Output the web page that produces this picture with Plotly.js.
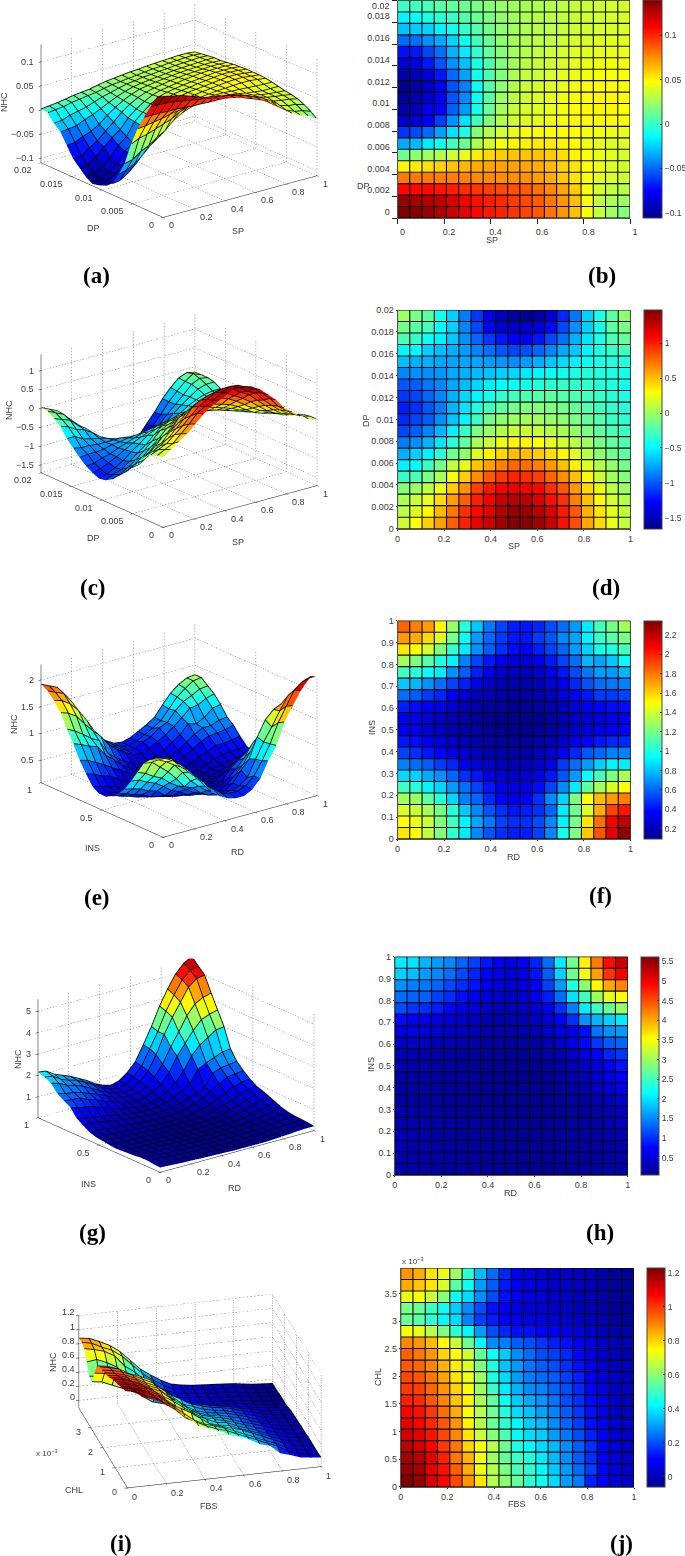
<!DOCTYPE html>
<html><head><meta charset="utf-8">
<script src="https://cdn.plot.ly/plotly-3.0.1.min.js"></script>
<style>html,body{margin:0;padding:0;background:#fff}#g{width:685px;height:1556px}</style></head>
<body><div id="g"></div>
<script>
const unitGrid=[0,0.0526,0.1053,0.1579,0.2105,0.2632,0.3158,0.3684,0.4211,0.4737,0.5263,0.5789,0.6316,0.6842,0.7368,0.7895,0.8421,0.8947,0.9474,1];
const dpGrid=unitGrid.map(v=>v*0.02);
const chlGrid=unitGrid.map(v=>v*0.00396);
const nhcAB=[
[.14,.138,.134,.128,.122,.114,.108,.104,.101,.097,.093,.088,.081,.073,.063,.046,.033,.025,.018,.008],
[.134,.131,.127,.124,.118,.112,.106,.103,.1,.096,.092,.087,.08,.073,.063,.046,.034,.027,.024,.018],
[.108,.108,.107,.105,.102,.099,.096,.094,.092,.09,.087,.082,.076,.069,.06,.046,.038,.033,.031,.026],
[.08,.08,.08,.079,.079,.078,.076,.076,.075,.075,.074,.071,.067,.06,.054,.046,.041,.038,.036,.032],
[.05,.052,.055,.058,.062,.065,.068,.07,.07,.07,.069,.067,.064,.058,.054,.048,.043,.04,.038,.035],
[.012,.02,.024,.03,.036,.042,.052,.057,.06,.062,.062,.062,.06,.056,.05,.046,.042,.04,.038,.037],
[-.034,-.03,-.018,-.01,.002,.012,.028,.038,.045,.05,.051,.052,.052,.05,.048,.044,.042,.04,.04,.04],
[-.063,-.058,-.05,-.036,-.02,-.008,.018,.03,.037,.042,.046,.047,.048,.048,.047,.046,.045,.044,.043,.043],
[-.088,-.086,-.075,-.06,-.04,-.02,.002,.018,.03,.036,.04,.042,.044,.046,.047,.048,.049,.049,.047,.045],
[-.098,-.095,-.08,-.075,-.052,-.038,-.008,.012,.026,.034,.038,.041,.043,.045,.047,.049,.05,.05,.048,.046],
[-.103,-.098,-.088,-.075,-.055,-.042,-.012,.008,.024,.032,.036,.04,.042,.044,.046,.048,.05,.05,.048,.046],
[-.106,-.1,-.09,-.078,-.056,-.044,-.012,.006,.02,.03,.035,.038,.04,.043,.045,.047,.049,.049,.048,.046],
[-.098,-.095,-.085,-.07,-.05,-.036,-.01,.005,.018,.028,.033,.036,.039,.041,.043,.045,.047,.047,.047,.045],
[-.085,-.082,-.07,-.055,-.04,-.028,-.008,.006,.017,.026,.031,.034,.037,.04,.042,.044,.045,.045,.045,.044],
[-.072,-.07,-.058,-.048,-.032,-.018,-.002,.01,.019,.026,.03,.033,.036,.038,.04,.041,.042,.043,.043,.042],
[-.05,-.048,-.04,-.034,-.024,-.01,.002,.012,.02,.026,.029,.032,.034,.036,.038,.039,.04,.041,.041,.04],
[-.028,-.026,-.024,-.016,-.01,-.002,.006,.014,.02,.025,.028,.03,.032,.034,.036,.037,.038,.039,.04,.04],
[-.016,-.014,-.008,-.004,0,.006,.012,.016,.021,.025,.027,.03,.031,.033,.034,.036,.037,.038,.039,.038],
[0,.002,.004,.008,.01,.013,.015,.019,.022,.024,.026,.028,.03,.032,.033,.035,.036,.037,.038,.036],
[.002,.004,.006,.009,.012,.014,.016,.02,.023,.025,.027,.029,.03,.032,.033,.034,.035,.036,.036,.034]];
const nhcCD=[
[.15,.3,.45,.6,.8,1.0,1.15,1.25,1.37,1.48,1.46,1.38,1.25,1.05,.85,.58,.42,.25,.12,.05],
[.1,.22,.32,.52,.72,.95,1.08,1.18,1.32,1.42,1.4,1.3,1.2,1.02,.82,.55,.38,.22,.12,.05],
[.05,.14,.24,.42,.6,.8,1.0,1.12,1.25,1.3,1.3,1.2,1.05,.95,.7,.5,.32,.18,.08,.02],
[-.08,0,.1,.25,.45,.65,.9,1.03,1.1,1.15,1.12,1.08,.95,.82,.62,.42,.25,.1,0,-.05],
[-.32,-.25,-.1,.05,.28,.45,.65,.82,.92,.98,.95,.9,.78,.65,.5,.32,.15,.03,-.08,-.12],
[-.52,-.48,-.3,-.12,.1,.22,.48,.6,.7,.78,.75,.7,.62,.5,.35,.2,.08,-.02,-.12,-.18],
[-.72,-.62,-.52,-.36,-.15,-.03,.2,.34,.42,.5,.5,.46,.4,.33,.22,.08,-.05,-.13,-.2,-.25],
[-.88,-.82,-.7,-.55,-.36,-.18,.03,.15,.26,.33,.33,.3,.24,.17,.1,0,-.1,-.18,-.24,-.28],
[-1.05,-.98,-.85,-.7,-.52,-.32,-.1,0,.08,.15,.15,.13,.09,.04,-.02,-.1,-.18,-.25,-.3,-.33],
[-1.15,-1.05,-.98,-.82,-.66,-.5,-.3,-.12,-.04,0,.03,.02,-.02,-.05,-.1,-.17,-.23,-.3,-.34,-.37],
[-1.18,-1.12,-1.0,-.88,-.7,-.55,-.38,-.28,-.2,-.12,-.08,-.07,-.09,-.13,-.17,-.23,-.28,-.33,-.37,-.4],
[-1.1,-1.05,-.95,-.85,-.72,-.6,-.5,-.42,-.33,-.28,-.24,-.22,-.2,-.22,-.25,-.28,-.32,-.36,-.4,-.42],
[-1.0,-.98,-.9,-.85,-.75,-.68,-.6,-.53,-.48,-.46,-.42,-.38,-.34,-.32,-.33,-.33,-.36,-.38,-.42,-.43],
[-.85,-.82,-.82,-.8,-.74,-.72,-.68,-.66,-.62,-.6,-.54,-.5,-.46,-.43,-.4,-.38,-.38,-.4,-.42,-.42],
[-.68,-.72,-.72,-.75,-.75,-.75,-.75,-.78,-.8,-.82,-.78,-.72,-.65,-.58,-.52,-.46,-.4,-.38,-.38,-.38],
[-.5,-.5,-.62,-.68,-.72,-.78,-.85,-.92,-1.0,-1.05,-1.02,-.95,-.85,-.74,-.64,-.5,-.4,-.32,-.28,-.28],
[-.25,-.32,-.45,-.52,-.65,-.82,-.95,-1.1,-1.2,-1.28,-1.3,-1.2,-1.05,-.92,-.72,-.55,-.4,-.25,-.18,-.18],
[-.12,-.2,-.28,-.48,-.62,-.85,-1.05,-1.3,-1.42,-1.45,-1.42,-1.38,-1.25,-1.05,-.82,-.62,-.42,-.2,-.1,-.14],
[0,-.1,-.2,-.42,-.62,-.88,-1.1,-1.33,-1.5,-1.6,-1.66,-1.58,-1.42,-1.15,-.9,-.62,-.4,-.2,-.05,-.14],
[.02,-.08,-.18,-.4,-.6,-.86,-1.1,-1.32,-1.52,-1.62,-1.66,-1.6,-1.45,-1.18,-.92,-.62,-.38,-.18,-.1,-.15]];
const nhcEF=[
[1.55,1.5,1.36,1.22,1.05,.9,.68,.56,.48,.44,.44,.52,.68,.98,1.22,1.62,1.88,2.12,2.3,2.3],
[1.5,1.46,1.38,1.22,1.08,.92,.74,.64,.52,.48,.48,.54,.68,.92,1.2,1.55,1.82,2.08,2.2,2.25],
[1.42,1.38,1.3,1.2,1.02,.82,.68,.56,.48,.42,.44,.48,.6,.9,1.18,1.42,1.68,1.92,2.02,2.05],
[1.3,1.28,1.15,1.02,.85,.66,.6,.46,.38,.34,.38,.48,.68,.85,1.22,1.5,1.65,1.72,1.78,1.8],
[1.08,1.02,.92,.85,.72,.62,.52,.42,.34,.3,.32,.4,.52,.68,.9,1.15,1.3,1.42,1.5,1.5],
[.86,.84,.76,.7,.6,.48,.42,.32,.28,.25,.28,.32,.42,.56,.72,.95,1.1,1.22,1.32,1.35],
[.66,.62,.58,.5,.46,.34,.3,.26,.21,.2,.22,.26,.32,.5,.62,.72,.84,.92,.9,.95],
[.52,.48,.42,.38,.3,.26,.22,.18,.16,.15,.16,.2,.26,.36,.46,.56,.6,.66,.66,.68],
[.42,.4,.34,.28,.24,.2,.18,.15,.13,.12,.13,.16,.2,.25,.32,.38,.42,.46,.46,.48],
[.36,.34,.28,.24,.2,.16,.15,.13,.1,.1,.11,.13,.16,.2,.26,.3,.34,.36,.38,.38],
[.36,.34,.3,.24,.2,.17,.14,.12,.1,.1,.11,.13,.16,.2,.25,.28,.3,.33,.36,.36],
[.44,.4,.36,.32,.26,.2,.17,.15,.13,.11,.12,.14,.18,.22,.28,.34,.38,.4,.4,.42],
[.62,.58,.5,.46,.36,.28,.22,.2,.17,.15,.15,.18,.22,.3,.36,.42,.5,.5,.52,.55],
[.82,.78,.7,.62,.52,.44,.34,.26,.2,.18,.18,.22,.28,.36,.46,.56,.62,.64,.66,.7],
[1.08,1.02,.95,.9,.7,.58,.44,.34,.26,.22,.22,.26,.34,.42,.54,.64,.72,.72,.78,.8],
[1.3,1.22,1.12,1.0,.92,.66,.52,.42,.34,.28,.28,.34,.42,.52,.62,.78,.74,.82,.95,.98],
[1.55,1.5,1.4,1.22,1.05,.9,.7,.58,.48,.4,.38,.44,.52,.6,.72,.84,.98,1.0,1.08,1.12],
[1.72,1.68,1.58,1.42,1.2,.95,.72,.6,.5,.42,.42,.5,.56,.68,.74,.92,1.05,1.12,1.2,1.22],
[1.85,1.78,1.72,1.52,1.28,1.02,.82,.64,.52,.44,.42,.46,.54,.62,.72,.9,1.08,1.2,1.3,1.32],
[1.92,1.85,1.78,1.6,1.32,1.05,.84,.66,.54,.45,.43,.47,.55,.63,.73,.92,1.1,1.22,1.3,1.32]];
const nhcGH=[
[.24,.22,.2,.18,.17,.15,.14,.13,.12,.1,.1,.1,.1,.1,.12,.15,.17,.2,.22,.22],
[.26,.24,.22,.2,.18,.16,.15,.13,.12,.11,.1,.1,.11,.12,.13,.16,.18,.2,.24,.26],
[.3,.27,.24,.21,.19,.17,.15,.14,.13,.12,.11,.11,.12,.13,.14,.16,.19,.22,.26,.28],
[.3,.27,.24,.2,.18,.17,.15,.14,.12,.11,.11,.11,.12,.13,.14,.16,.2,.24,.28,.3],
[.26,.24,.22,.2,.18,.16,.15,.13,.12,.11,.1,.1,.11,.12,.14,.17,.21,.26,.32,.34],
[.24,.22,.2,.19,.17,.15,.14,.12,.11,.1,.09,.1,.11,.12,.14,.18,.22,.3,.38,.42],
[.22,.2,.18,.17,.15,.14,.12,.11,.1,.09,.09,.09,.1,.12,.15,.2,.28,.38,.48,.55],
[.2,.19,.18,.16,.15,.14,.12,.1,.09,.08,.08,.09,.1,.13,.18,.25,.35,.48,.6,.68],
[.24,.22,.2,.18,.16,.15,.13,.11,.1,.09,.09,.1,.12,.16,.22,.32,.45,.6,.72,.8],
[.28,.27,.24,.22,.2,.17,.15,.13,.12,.1,.11,.12,.15,.2,.3,.42,.55,.75,.85,.9],
[.32,.3,.28,.25,.23,.2,.18,.16,.14,.12,.13,.15,.2,.28,.4,.58,.75,.95,1.05,1.1],
[.42,.4,.36,.32,.3,.27,.24,.2,.18,.17,.18,.22,.3,.42,.6,.8,1.05,1.25,1.3,1.35],
[.6,.62,.55,.5,.42,.38,.32,.28,.25,.24,.26,.32,.42,.55,.65,.82,1.4,1.55,1.6,1.65],
[.8,.72,.65,.58,.52,.45,.38,.32,.28,.28,.32,.42,.55,.75,1.0,1.55,1.75,1.9,2.05,2.1],
[1.18,1.05,1.0,.9,.78,.62,.52,.42,.35,.32,.38,.5,.7,1.0,1.45,2.05,2.45,2.7,2.95,3.0],
[1.35,1.3,1.28,1.1,1.0,.82,.7,.55,.45,.42,.48,.65,.9,1.35,2.0,2.5,3.0,3.4,3.55,3.65],
[1.55,1.45,1.4,1.3,1.15,1.0,.85,.65,.55,.5,.58,.75,1.1,1.6,2.3,2.9,3.55,4.0,4.2,4.3],
[1.9,1.8,1.6,1.5,1.35,1.15,.95,.75,.62,.55,.62,.85,1.25,1.9,2.75,3.45,4.05,4.65,4.95,5.0],
[2.05,2.0,1.75,1.6,1.5,1.3,1.1,.85,.7,.6,.7,.95,1.35,2.05,2.75,3.6,4.25,4.85,5.2,5.3],
[2.15,2.1,1.85,1.7,1.55,1.35,1.15,.9,.72,.62,.72,1.0,1.4,2.1,2.85,3.7,4.4,5.0,5.4,5.61]];
const nhcIJ=[
[1.23,1.2,1.12,1.07,.98,.88,.78,.65,.6,.55,.48,.44,.38,.3,.26,.14,.1,.05,.03,.02],
[1.2,1.18,1.1,1.05,.95,.85,.72,.65,.58,.52,.48,.42,.36,.3,.24,.18,.1,.05,.02,.01],
[1.18,1.16,1.1,1.03,.92,.84,.73,.62,.55,.5,.46,.4,.34,.28,.22,.16,.09,.05,.02,.01],
[1.15,1.12,1.07,1.0,.92,.8,.74,.66,.56,.46,.42,.38,.34,.28,.22,.16,.1,.05,.02,.01],
[1.12,1.1,1.05,.98,.9,.78,.68,.6,.52,.42,.38,.36,.3,.25,.2,.14,.09,.04,.02,.01],
[1.1,1.07,1.02,.96,.88,.76,.65,.56,.48,.42,.36,.34,.28,.23,.18,.12,.08,.04,.02,.01],
[1.07,1.05,1.0,.93,.85,.75,.66,.56,.46,.38,.35,.31,.27,.22,.17,.12,.07,.03,.01,0],
[1.03,1.02,.96,.9,.82,.76,.64,.55,.44,.36,.32,.29,.25,.2,.16,.11,.07,.03,.01,0],
[1.0,.99,.94,.88,.8,.74,.62,.5,.4,.33,.28,.27,.23,.2,.15,.1,.06,.02,.01,0],
[.98,.96,.92,.86,.78,.72,.62,.46,.38,.3,.26,.24,.22,.18,.14,.09,.05,.02,0,-.01],
[.96,.94,.9,.84,.77,.7,.58,.46,.35,.3,.25,.22,.2,.16,.12,.08,.04,.01,0,-.01],
[.95,.92,.88,.8,.75,.68,.55,.44,.36,.28,.24,.2,.18,.15,.11,.07,.03,.01,-.01,-.02],
[.9,.88,.83,.75,.68,.56,.42,.28,.26,.22,.2,.17,.14,.12,.08,.06,.02,0,-.01,-.02],
[.74,.72,.66,.58,.48,.42,.3,.2,.15,.12,.12,.1,.09,.07,.05,.03,0,-.02,-.03,-.04],
[.56,.54,.48,.42,.38,.27,.18,.14,.1,.08,.07,.06,.05,.04,.03,.01,-.01,-.03,-.04,-.05],
[.58,.56,.5,.44,.36,.28,.2,.12,.09,.06,.05,.04,.03,.02,.01,0,-.02,-.04,-.05,-.05],
[.72,.74,.68,.6,.44,.38,.28,.2,.12,.08,.06,.05,.03,.02,0,0,-.02,-.04,-.05,-.05],
[.85,.82,.78,.7,.54,.44,.3,.22,.13,.08,.06,.04,.03,.02,.01,0,-.02,-.04,-.05,-.06],
[.88,.85,.78,.72,.62,.48,.34,.24,.15,.08,.06,.04,.03,.02,.01,0,-.02,-.04,-.05,-.06],
[.88,.86,.8,.73,.63,.49,.35,.25,.16,.09,.06,.04,.03,.02,.01,0,-.02,-.04,-.05,-.06]];

const jet=[[0,'rgb(0,0,143)'],[0.125,'rgb(0,0,255)'],[0.375,'rgb(0,255,255)'],[0.625,'rgb(255,255,0)'],[0.875,'rgb(255,0,0)'],[1,'rgb(128,0,0)']];
const FONT='"Liberation Sans",Arial,sans-serif', TXT='#3a3a3a', TS=9;
const W=685,H=1556;
const fx=p=>p/W, fy=p=>1-p/H;

const unitTicks=[0,0.2,0.4,0.6,0.8,1], unitText=['0','0.2','0.4','0.6','0.8','1'];
const dpHeatTicks=[0,.002,.004,.006,.008,.01,.012,.014,.016,.018,.02];
const dpHeatText=['0','0.002','0.004','0.006','0.008','0.01','0.012','0.014','0.016','0.018','0.02'];
const insHeatTicks=[0,.1,.2,.3,.4,.5,.6,.7,.8,.9,1];
const insHeatText=['0','0.1','0.2','0.3','0.4','0.5','0.6','0.7','0.8','0.9','1'];
const chlHeatTicks=[0,.0005,.001,.0015,.002,.0025,.003,.0035];
const chlHeatText=['0','0.5','1','1.5','2','2.5','3','3.5'];
const EYE=3;
const shiftStd={x:[4,-8],y:[-7,-7.5],z:[-5,0]}, shiftLow={x:[3,-9],y:[-8,-4],z:[-2,3]};

const panels=[
{z:nhcAB,xn:'SP',yn:'DP',yg:dpGrid,yr:[0,.02],
 y3:[0,.005,.01,.015,.02],y3t:['0','0.005','0.01','0.015','0.02'],
 z3:[-.1,-.05,0,.05,.1],z3t:['\u22120.1','\u22120.05','0','0.05','0.1'],zr:[-.11,.136],
 clim:[-.106,.14],cbt:[-.1,-.05,0,.05,.1],cbx:['\u22120.1','\u22120.05','0','0.05','0.1'],
 hy:dpHeatTicks,hyt:dpHeatText,tshift:[5,-6],tlen:5,sh:shiftStd,
 dom:[0,358,0,250],eye:[-.576,-.74,.348],asp:[1.56,1.59,1.01],cz:-.127,
 rect:[397.5,630,0.5,218],cb:[643,661.5,0.5,218],
 t3:[[4,102,-90,'NHC'],[93,228,0,'DP'],[238,231,0,'SP']],th:[[492,240,0,'SP'],[363,186,0,'DP'],[381,6,0,'0.02']]},
{z:nhcCD,xn:'SP',yn:'DP',yg:dpGrid,yr:[0,.02],
 y3:[0,.005,.01,.015,.02],y3t:['0','0.005','0.01','0.015','0.02'],
 z3:[-1.5,-1,-.5,0,.5,1],z3t:['\u22121.5','\u22121','\u22120.5','0','0.5','1'],zr:[-1.71,1.43],
 clim:[-1.658,1.484],cbt:[-1.5,-1,-.5,0,.5,1],cbx:['\u22121.5','\u22121','\u22120.5','0','0.5','1'],
 hy:dpHeatTicks,hyt:dpHeatText,tshift:[0,0],tlen:1,sh:shiftStd,
 dom:[0,358,295,545],eye:[-.576,-.74,.348],asp:[1.56,1.59,1.01],cz:0,
 rect:[397.5,630.5,310,528.7],cb:[643.5,661.5,310,528.7],
 t3:[[9,410,-90,'NHC'],[93,538,0,'DP'],[238,542,0,'SP']],th:[[514,546,0,'SP'],[366,420,-90,'DP']]},
{z:nhcEF,xn:'RD',yn:'INS',yg:unitGrid,yr:[0,1],
 y3:[0,.5,1],y3t:['0','0.5','1'],
 z3:[.5,1,1.5,2],z3t:['0.5','1','1.5','2'],zr:[.08,2.29],
 clim:[.094,2.344],cbt:[.2,.4,.6,.8,1,1.2,1.4,1.6,1.8,2,2.2],cbx:['0.2','0.4','0.6','0.8','1','1.2','1.4','1.6','1.8','2','2.2'],
 hy:insHeatTicks,hyt:insHeatText,tshift:[0,0],tlen:1,sh:shiftStd,
 dom:[0,358,605,855],eye:[-.576,-.74,.348],asp:[1.56,1.59,1.01],cz:0,
 rect:[397.5,630.5,620.7,839],cb:[643.5,661.5,620.7,839],
 t3:[[14,724,-90,'NHC'],[92,848,0,'INS'],[238,852,0,'RD']],th:[[514,857,0,'RD'],[372,728,-90,'INS']]},
{z:nhcGH,xn:'RD',yn:'INS',yg:unitGrid,yr:[0,1],
 y3:[0,.5,1],y3t:['0','0.5','1'],
 z3:[1,2,3,4,5],z3t:['1','2','3','4','5'],zr:[.02,5.55],
 clim:[.06,5.61],cbt:[.5,1,1.5,2,2.5,3,3.5,4,4.5,5,5.5],cbx:['0.5','1','1.5','2','2.5','3','3.5','4','4.5','5','5.5'],
 hy:insHeatTicks,hyt:insHeatText,tshift:[0,0],tlen:1,sh:shiftStd,
 dom:[0,352,940,1190],eye:[-.576,-.74,.348],asp:[1.56,1.59,1.01],cz:0,
 rect:[394.7,627.7,956.7,1175],cb:[640.7,658.5,956.7,1175],
 t3:[[18,1059,-90,'NHC'],[88,1184,0,'INS'],[235,1188,0,'RD']],th:[[511,1193,0,'RD'],[371,1065,-90,'INS']]},
{z:nhcIJ,xn:'FBS',yn:'CHL',yg:chlGrid,yr:[0,.00396],
 y3:[0,.001,.002,.003],y3t:['0','1','2','3'],
 z3:[0,.2,.4,.6,.8,1,1.2],z3t:['0','0.2','0.4','0.6','0.8','1','1.2'],zr:[-.11,1.2],
 clim:[-.059,1.23],cbt:[0,.2,.4,.6,.8,1,1.2],cbx:['0','0.2','0.4','0.6','0.8','1','1.2'],
 hy:chlHeatTicks,hyt:chlHeatText,tshift:[0,0],tlen:1,sh:shiftLow,
 dom:[40,360,1266,1516],eye:[-.227,-.877,.425],asp:[1.6,1.55,.82],cz:0,
 rect:[400.7,634,1268,1486.7],cb:[646.7,664.5,1268,1486.7],
 t3:[[53,1362,-90,'NHC'],[74,1490,0,'CHL'],[209,1506,0,'FBS']],th:[[517,1504,0,'FBS'],[378,1377,-90,'CHL']]}
];

const panelLabels=[
['(a)',96.5,276],['(b)',601.5,276],['(c)',92.5,587],['(d)',606,587],['(e)',97,897],
['(f)',600.5,895],['(g)',92.5,1232],['(h)',600,1232],['(i)',120.5,1543],['(j)',621,1543]];

function dotted(p){
 const X=[],Y=[],Z=[];
 const seg=(a,b,n)=>{for(let k=0;k<n;k++){const s=k/n,e=(k+.45)/n;
   X.push(a[0]+(b[0]-a[0])*s,a[0]+(b[0]-a[0])*e,null);
   Y.push(a[1]+(b[1]-a[1])*s,a[1]+(b[1]-a[1])*e,null);
   Z.push(a[2]+(b[2]-a[2])*s,a[2]+(b[2]-a[2])*e,null);}};
 const x1=1,y1=p.yr[1],z0=p.zr[0],z1=p.zr[1];
 unitTicks.forEach(t=>{seg([t,0,z0],[t,y1,z0],52);seg([t,y1,z0],[t,y1,z1],38);});
 p.y3.forEach(t=>{seg([0,t,z0],[x1,t,z0],52);seg([x1,t,z0],[x1,t,z1],38);});
 p.z3.forEach(t=>{seg([0,y1,t],[x1,y1,t],52);seg([x1,y1,t],[x1,0,t],52);});
 return {X,Y,Z};
}
function facets(p){
 const x=[],y=[],z=[],i=[],j=[],k=[],c=[],n=unitGrid.length;
 p.yg.forEach((yv,r)=>unitGrid.forEach((xv,q)=>{x.push(xv);y.push(yv);z.push(p.z[r][q]);}));
 for(let r=0;r<n-1;r++)for(let q=0;q<n-1;q++){
   const a=r*n+q,b=a+1,d=a+n,e=d+1;
   i.push(a,a);j.push(b,e);k.push(e,d);c.push(p.z[r][q],p.z[r][q]);
 }
 return {x,y,z,i,j,k,c};
}
function wire(p){
 // grid lines nudged along the sight line so they sit just in front of the facets; projection is unchanged
 const eps=.012,off=[p.eye[0]*eps/p.asp[0],p.eye[1]*eps*(p.yr[1]-p.yr[0])/p.asp[1],p.eye[2]*eps*(p.zr[1]-p.zr[0])/p.asp[2]];
 const X=[],Y=[],Z=[],n=unitGrid.length;
 for(let r=0;r<n;r++){for(let q=0;q<n;q++){X.push(unitGrid[q]+off[0]);Y.push(p.yg[r]+off[1]);Z.push(p.z[r][q]+off[2]);}X.push(null);Y.push(null);Z.push(null);}
 for(let q=0;q<n;q++){for(let r=0;r<n;r++){X.push(unitGrid[q]+off[0]);Y.push(p.yg[r]+off[1]);Z.push(p.z[r][q]+off[2]);}X.push(null);Y.push(null);Z.push(null);}
 return {X,Y,Z};
}
const traces=[],layout={width:W,height:H,margin:{l:0,r:0,t:0,b:0,autoexpand:false},paper_bgcolor:'#fff',plot_bgcolor:'#000',showlegend:false,
  font:{family:FONT,size:TS,color:TXT},annotations:[]};
const addTitle=t=>layout.annotations.push({text:t[3],xref:'paper',yref:'paper',x:fx(t[0]),y:fy(t[1]),textangle:t[2],showarrow:false,xanchor:'center',yanchor:'middle',font:{size:TS,color:TXT,family:FONT}});

panels.forEach((p,i)=>{
 const sid='scene'+(i?i+1:''), ax=i?i+1:'';
 const g=dotted(p),f=facets(p),w=wire(p);
 traces.push({type:'scatter3d',mode:'lines',scene:sid,x:g.X,y:g.Y,z:g.Z,connectgaps:false,hoverinfo:'skip',line:{color:'#666',width:1}});
 traces.push({type:'mesh3d',scene:sid,x:f.x,y:f.y,z:f.z,i:f.i,j:f.j,k:f.k,intensity:f.c,intensitymode:'cell',colorscale:jet,cmin:p.clim[0],cmax:p.clim[1],
   showscale:false,hoverinfo:'skip',flatshading:true,lighting:{ambient:1,diffuse:0,specular:0,roughness:1,fresnel:0}});
 traces.push({type:'scatter3d',mode:'lines',scene:sid,x:w.X,y:w.Y,z:w.Z,connectgaps:false,hoverinfo:'skip',line:{color:'#0a0a0a',width:1.7}});
 const axis3=(vals,range)=>({range,tickvals:vals,ticktext:vals.map(String),tickmode:'array',title:{text:''},showticklabels:false,
   showgrid:false,zeroline:false,showbackground:false,showline:true,linecolor:'#111',linewidth:1,
   ticks:'outside',ticklen:3,tickcolor:'#111',showspikes:false});
 const tl=(x,y,z,text,xa,ya,s)=>({x,y,z,text,showarrow:false,xanchor:xa,yanchor:ya,xshift:s[0],yshift:s[1],font:{size:TS,color:TXT,family:FONT}});
 const notes=[];
 unitTicks.forEach((t,q)=>notes.push(tl(t,0,p.zr[0],unitText[q],'left','middle',p.sh.x)));
 p.y3.forEach((t,q)=>notes.push(tl(0,t,p.zr[0],p.y3t[q],'right','middle',p.sh.y)));
 p.z3.forEach((t,q)=>notes.push(tl(0,p.yr[1],t,p.z3t[q],'right','middle',p.sh.z)));
 layout[sid]={domain:{x:[fx(p.dom[0]),fx(p.dom[1])],y:[fy(p.dom[3]),fy(p.dom[2])]},
   aspectmode:'manual',aspectratio:{x:p.asp[0],y:p.asp[1],z:p.asp[2]},
   camera:{eye:{x:p.eye[0]*EYE,y:p.eye[1]*EYE,z:p.eye[2]*EYE+p.cz},up:{x:0,y:0,z:1},center:{x:0,y:0,z:p.cz},projection:{type:'orthographic'}},
   xaxis:axis3(unitTicks,[0,1]),
   yaxis:axis3(p.y3,p.yr),
   zaxis:axis3(p.z3,p.zr),
   annotations:notes};
 traces.push({type:'heatmap',xaxis:'x'+ax,yaxis:'y'+ax,x:unitGrid,y:p.yg,
   z:p.z.slice(0,19).map(r=>r.slice(0,19)),zmin:p.clim[0],zmax:p.clim[1],colorscale:jet,hoverinfo:'skip',
   colorbar:{x:fx(p.cb[0]),xanchor:'left',xpad:0,ypad:0,y:fy(p.cb[3]),yanchor:'bottom',len:(p.cb[3]-p.cb[2])/H,lenmode:'fraction',
     thickness:p.cb[1]-p.cb[0],thicknessmode:'pixels',outlinecolor:'#444',outlinewidth:1,tickvals:p.cbt,ticktext:p.cbx,tickmode:'array',
     ticks:'inside',ticklen:2,tickcolor:'#333',tickfont:{size:8.5,color:TXT,family:FONT}}});
 const LX=[],LY=[];
 unitGrid.forEach(v=>{LX.push(v,v,null);LY.push(p.yr[0],p.yr[1],null);});
 p.yg.forEach(v=>{LX.push(0,1,null);LY.push(v,v,null);});
 traces.push({type:'scatter',mode:'lines',xaxis:'x'+ax,yaxis:'y'+ax,x:LX,y:LY,line:{color:'#0a0a0a',width:1.1},hoverinfo:'skip',cliponaxis:false});
 layout['xaxis'+ax]={domain:[fx(p.rect[0]),fx(p.rect[1])],range:[0,1],anchor:'y'+ax,tickvals:unitTicks,ticktext:unitText,tickmode:'array',ticks:'outside',ticklen:p.tlen,
   tickcolor:'#222',showgrid:false,zeroline:false,showline:true,linecolor:'#555',ticklabelshift:p.tshift[0],tickfont:{size:TS,color:TXT,family:FONT}};
 layout['yaxis'+ax]={domain:[fy(p.rect[3]),fy(p.rect[2])],range:p.yr,anchor:'x'+ax,tickvals:p.hy,ticktext:p.hyt,tickmode:'array',ticks:'outside',ticklen:p.tlen,
   tickcolor:'#222',showgrid:false,zeroline:false,showline:true,linecolor:'#555',ticklabelshift:p.tshift[1],tickfont:{size:TS,color:TXT,family:FONT}};
 p.t3.forEach(addTitle);
 p.th.forEach(addTitle);
});
panelLabels.forEach(l=>layout.annotations.push({text:l[0],xref:'paper',yref:'paper',x:fx(l[1]),y:fy(l[2]),showarrow:false,xanchor:'center',yanchor:'middle',
  font:{family:'"Liberation Serif","Times New Roman",serif',size:23,color:'#000',weight:700}}));
[[400,1261,'left'],[47,1453,'center']].forEach(a=>layout.annotations.push({text:'x 10<sup>\u22123</sup>',xref:'paper',yref:'paper',x:fx(a[0]),y:fy(a[1]),showarrow:false,xanchor:a[2],yanchor:'middle',font:{size:8,color:TXT,family:FONT}}));
Plotly.newPlot('g',traces,layout,{displayModeBar:false});
</script></body></html>
